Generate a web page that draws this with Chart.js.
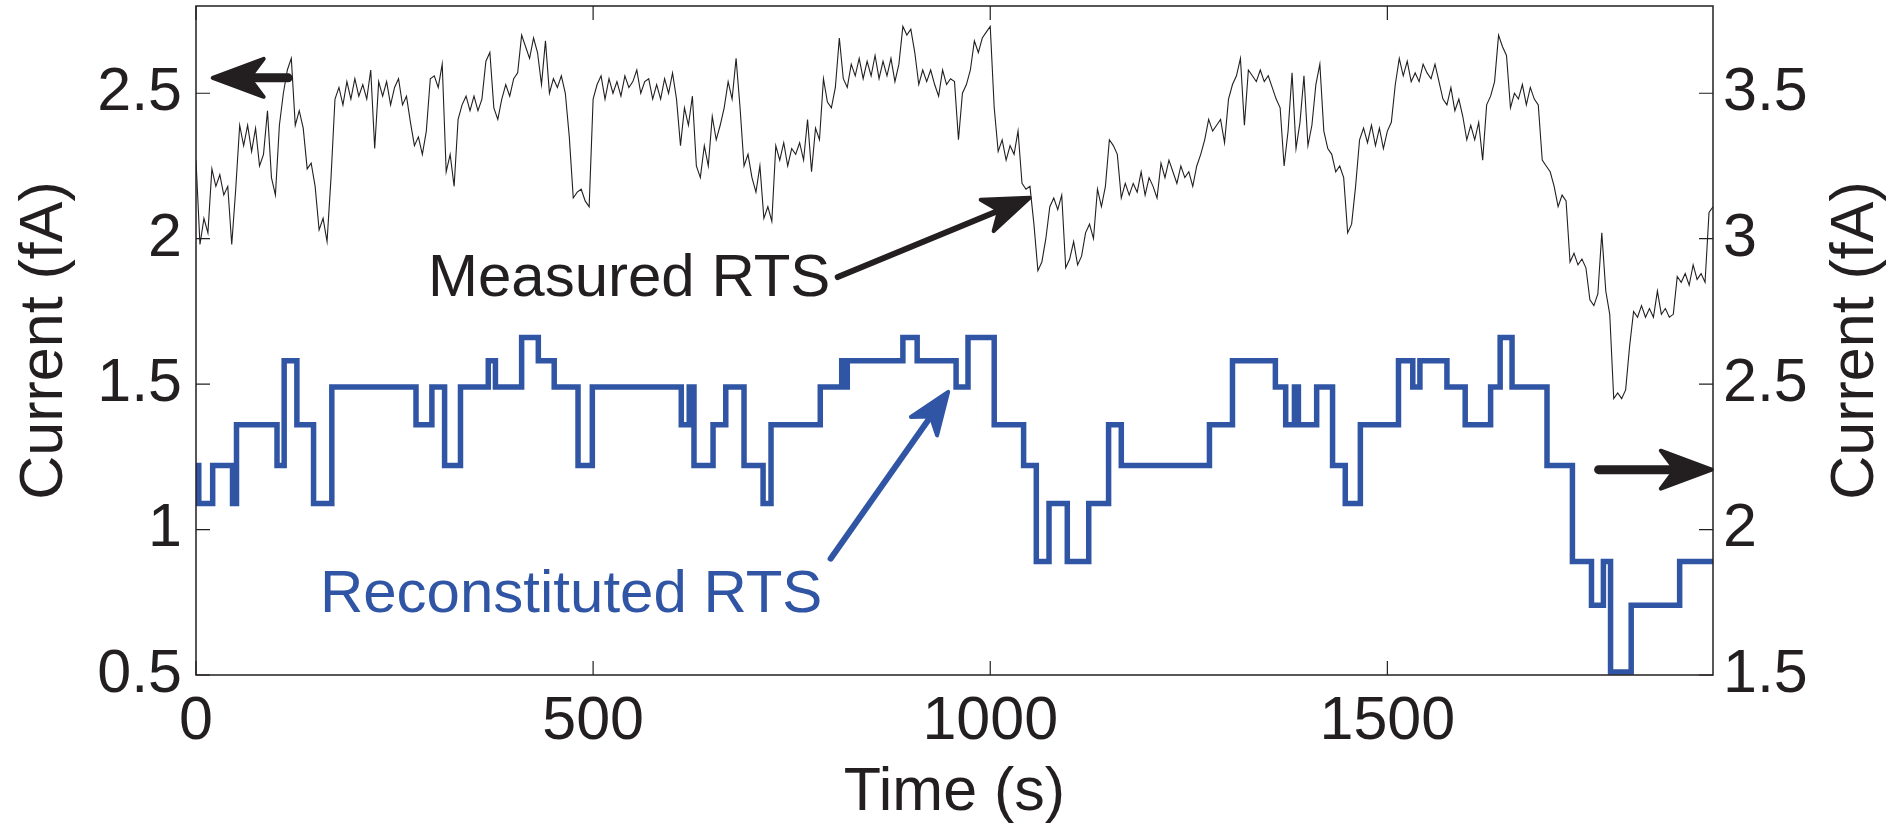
<!DOCTYPE html>
<html>
<head>
<meta charset="utf-8">
<script src="https://cdn.jsdelivr.net/npm/chart.js@4.4.1/dist/chart.umd.min.js"></script>
<style>
  html, body { margin: 0; padding: 0; background: #fff; }
</style>
</head>
<body>
<canvas id="graficoRTS" width="1895" height="823"></canvas>
<script>
// Medido: uma leitura a cada 5 s (eixo esquerdo, fA)
const passoTempo = 5;

const medido1 = [ // 0 - 480 s
  2.27, 1.98, 2.07, 2.02, 2.24, 2.18, 2.22, 2.15, 2.18, 1.98,
  2.17, 2.39, 2.32, 2.39, 2.30, 2.38, 2.25, 2.29, 2.44, 2.21,
  2.15, 2.39, 2.50, 2.58, 2.62, 2.39, 2.44, 2.38, 2.24, 2.26,
  2.18, 2.03, 2.07, 1.99, 2.21, 2.48, 2.52, 2.46, 2.54, 2.48,
  2.55, 2.49, 2.53, 2.48, 2.58, 2.31, 2.54, 2.49, 2.54, 2.46,
  2.52, 2.55, 2.46, 2.49, 2.40, 2.32, 2.35, 2.29, 2.37, 2.55,
  2.56, 2.52, 2.60, 2.23, 2.29, 2.18, 2.41, 2.46, 2.49, 2.44,
  2.49, 2.44, 2.48, 2.61, 2.64, 2.45, 2.41, 2.48, 2.53, 2.49,
  2.55, 2.57, 2.70, 2.66, 2.62, 2.69, 2.64, 2.53, 2.68, 2.50,
  2.55, 2.52, 2.56, 2.50, 2.35, 2.14, 2.16
];
const medido2 = [ // 485 - 950 s
  2.17, 2.13, 2.11, 2.48, 2.53, 2.56, 2.48, 2.55, 2.50, 2.54,
  2.49, 2.56, 2.52, 2.54, 2.58, 2.50, 2.54, 2.55, 2.48, 2.53,
  2.48, 2.55, 2.50, 2.57, 2.48, 2.32, 2.45, 2.39, 2.49, 2.25,
  2.21, 2.32, 2.25, 2.42, 2.34, 2.39, 2.45, 2.54, 2.48, 2.62,
  2.45, 2.25, 2.29, 2.21, 2.16, 2.25, 2.07, 2.11, 2.06, 2.32,
  2.27, 2.33, 2.25, 2.31, 2.29, 2.33, 2.27, 2.41, 2.23, 2.38,
  2.34, 2.55, 2.47, 2.45, 2.52, 2.69, 2.55, 2.52, 2.60, 2.56,
  2.62, 2.55, 2.61, 2.56, 2.63, 2.55, 2.61, 2.56, 2.62, 2.54,
  2.60, 2.73, 2.70, 2.72, 2.64, 2.53, 2.58, 2.54, 2.58, 2.53,
  2.49, 2.58, 2.53, 2.55
];
const medido3 = [ // 955 - 1425 s
  2.54, 2.34, 2.50, 2.53, 2.58, 2.68, 2.64, 2.69, 2.71, 2.73,
  2.45, 2.30, 2.34, 2.27, 2.32, 2.29, 2.37, 2.19, 2.17, 2.18,
  2.05, 1.89, 1.92, 2.00, 2.11, 2.14, 2.10, 2.15, 1.90, 1.93,
  1.99, 1.91, 1.94, 2.02, 2.05, 2.00, 2.17, 2.11, 2.18, 2.34,
  2.32, 2.29, 2.14, 2.19, 2.15, 2.19, 2.16, 2.23, 2.15, 2.21,
  2.18, 2.14, 2.26, 2.21, 2.27, 2.23, 2.19, 2.25, 2.21, 2.23,
  2.18, 2.25, 2.29, 2.34, 2.41, 2.37, 2.39, 2.41, 2.33, 2.48,
  2.53, 2.56, 2.62, 2.39, 2.58, 2.56, 2.54, 2.58, 2.54, 2.56,
  2.52, 2.48, 2.45, 2.25, 2.37, 2.57, 2.31, 2.40, 2.56, 2.32,
  2.39, 2.53, 2.60, 2.37, 2.31
];
const medido4 = [ // 1430 - 1910 s
  2.29, 2.23, 2.25, 2.21, 2.02, 2.05, 2.18, 2.34, 2.38, 2.33,
  2.39, 2.32, 2.38, 2.31, 2.37, 2.40, 2.53, 2.62, 2.56, 2.61,
  2.54, 2.57, 2.54, 2.60, 2.57, 2.55, 2.60, 2.54, 2.48, 2.46,
  2.52, 2.44, 2.48, 2.42, 2.34, 2.39, 2.34, 2.40, 2.27, 2.46,
  2.49, 2.54, 2.70, 2.66, 2.63, 2.45, 2.50, 2.48, 2.53, 2.46,
  2.52, 2.48, 2.46, 2.27, 2.25, 2.23, 2.18, 2.11, 2.15, 2.13,
  1.92, 1.95, 1.91, 1.93, 1.90, 1.79, 1.77, 1.81, 2.02, 1.82,
  1.74, 1.45, 1.47, 1.45, 1.48, 1.63, 1.75, 1.73, 1.77, 1.73,
  1.76, 1.73, 1.82, 1.74, 1.76, 1.73, 1.74, 1.87, 1.85, 1.88,
  1.84, 1.91, 1.86, 1.88, 1.85, 2.09, 2.11
];

// RTS reconstituído: instante da transição (s) e novo nível (eixo direito, fA)
const rtsTempos = [
  0, 3.5, 21, 46, 51, 102, 111, 127, 148, 171,
  277, 297, 313, 333, 368, 377, 410, 431, 451, 481,
  499, 611, 621, 627, 651, 667, 690, 714, 724, 786,
  813, 816, 820, 890, 908, 957, 972, 1005, 1042, 1058,
  1074, 1097, 1124, 1149, 1165, 1276, 1305, 1359, 1372, 1383,
  1388, 1411, 1431, 1447, 1466, 1514, 1532, 1541, 1575, 1598,
  1630, 1642, 1657, 1701, 1733, 1757, 1772, 1781, 1807, 1868,
  1910
];
const rtsNiveis = [
  2.22, 2.09, 2.22, 2.09, 2.36, 2.22, 2.58, 2.36, 2.09, 2.49,
  2.36, 2.49, 2.22, 2.49, 2.58, 2.49, 2.66, 2.58, 2.49, 2.22,
  2.49, 2.36, 2.49, 2.22, 2.36, 2.49, 2.22, 2.09, 2.36, 2.49,
  2.58, 2.49, 2.58, 2.66, 2.58, 2.49, 2.66, 2.36, 2.22, 1.89,
  2.09, 1.89, 2.09, 2.36, 2.22, 2.36, 2.58, 2.49, 2.36, 2.49,
  2.36, 2.49, 2.22, 2.09, 2.36, 2.58, 2.49, 2.58, 2.49, 2.36,
  2.49, 2.66, 2.49, 2.22, 1.89, 1.74, 1.89, 1.51, 1.74, 1.89,
  1.89
];

const ticksX = [0, 500, 1000, 1500];
const ticksEsq = [0.5, 1, 1.5, 2, 2.5];
const ticksDir = [1.5, 2, 2.5, 3, 3.5];

const corTexto = '#231f20';
const corAzul = '#3155a5';
const familia = '"Liberation Sans", Arial, Helvetica, sans-serif';

const pontosMedidos = [...medido1, ...medido2, ...medido3, ...medido4]
  .map((v, i) => ({ x: i * passoTempo, y: v }));
const pontosRts = rtsTempos.map((t, i) => ({ x: t, y: rtsNiveis[i] }));

// Anotações em coordenadas de dados (tempo, eixo esquerdo)
const textos = [
  { texto: 'Measured RTS', t: 292, v: 1.804, cor: corTexto },
  { texto: 'Reconstituted RTS', t: 156, v: 0.718, cor: corAzul }
];
const setas = [
  { de: [808, 1.868], para: [1052, 2.143], haste: 6, comp: 46, larg: 34, cor: corTexto },
  { de: [799, 0.90], para: [948.5, 1.479], haste: 6, comp: 42, larg: 32, cor: corAzul },
  { de: [116, 2.553], para: [18.5, 2.553], haste: 9, comp: 51, larg: 38, cor: corTexto },
  { de: [1766, 1.206], para: [1911, 1.206], haste: 9, comp: 51, larg: 38, cor: corTexto }
];

function desenhaSeta(ctx, x0, y0, x1, y1, s) {
  const dx = x1 - x0, dy = y1 - y0, n = Math.hypot(dx, dy);
  const ux = dx / n, uy = dy / n, px = -uy, py = ux;
  const tx = x1 - ux * 2, ty = y1 - uy * 2;
  const bx = tx - ux * s.comp, by = ty - uy * s.comp;
  const nx = tx - ux * s.comp * 0.72, ny = ty - uy * s.comp * 0.72;
  ctx.strokeStyle = s.cor;
  ctx.fillStyle = s.cor;
  ctx.lineCap = 'round';
  ctx.lineJoin = 'round';
  ctx.lineWidth = s.haste;
  ctx.beginPath();
  ctx.moveTo(x0, y0);
  ctx.lineTo(nx, ny);
  ctx.stroke();
  ctx.lineWidth = 4;
  ctx.beginPath();
  ctx.moveTo(tx, ty);
  ctx.lineTo(bx + px * s.larg / 2, by + py * s.larg / 2);
  ctx.lineTo(nx, ny);
  ctx.lineTo(bx - px * s.larg / 2, by - py * s.larg / 2);
  ctx.closePath();
  ctx.fill();
  ctx.stroke();
}

const decoracao = {
  id: 'decoracao',
  afterDraw(chart) {
    const { ctx, chartArea: a, scales } = chart;
    const sx = scales.x, se = scales.yL, sd = scales.yR;
    ctx.save();

    // caixa e ticks para dentro
    ctx.strokeStyle = corTexto;
    ctx.lineWidth = 1.5;
    ctx.strokeRect(a.left, a.top, a.right - a.left, a.bottom - a.top);
    ctx.lineWidth = 1.2;
    ctx.beginPath();
    sx.ticks.forEach(t => {
      const p = sx.getPixelForValue(t.value);
      ctx.moveTo(p, a.bottom); ctx.lineTo(p, a.bottom - 14);
      ctx.moveTo(p, a.top); ctx.lineTo(p, a.top + 14);
    });
    se.ticks.forEach(t => {
      const p = se.getPixelForValue(t.value);
      ctx.moveTo(a.left, p); ctx.lineTo(a.left + 14, p);
    });
    sd.ticks.forEach(t => {
      const p = sd.getPixelForValue(t.value);
      ctx.moveTo(a.right, p); ctx.lineTo(a.right - 14, p);
    });
    ctx.stroke();

    // títulos dos eixos
    const meioY = (a.top + a.bottom) / 2;
    ctx.font = '61px ' + familia;
    ctx.fillStyle = corTexto;
    ctx.textAlign = 'center';
    ctx.textBaseline = 'alphabetic';
    ctx.fillText('Time (s)', (a.left + a.right) / 2, 810);
    [62, 1873].forEach(xb => {
      ctx.save();
      ctx.translate(xb, meioY);
      ctx.rotate(-Math.PI / 2);
      ctx.fillText('Current (fA)', 0, 0);
      ctx.restore();
    });

    // textos e setas
    ctx.font = '60px ' + familia;
    ctx.textAlign = 'left';
    textos.forEach(n => {
      ctx.fillStyle = n.cor;
      ctx.fillText(n.texto, sx.getPixelForValue(n.t), se.getPixelForValue(n.v));
    });
    setas.forEach(s => {
      desenhaSeta(ctx,
        sx.getPixelForValue(s.de[0]), se.getPixelForValue(s.de[1]),
        sx.getPixelForValue(s.para[0]), se.getPixelForValue(s.para[1]), s);
    });
    ctx.restore();
  }
};

const semPadding = s => { s.paddingTop = 0; s.paddingBottom = 0; s.paddingLeft = 0; s.paddingRight = 0; };
const fonteTicks = { family: familia, size: 61 };

new Chart(document.getElementById('graficoRTS'), {
  type: 'line',
  data: {
    datasets: [
      {
        label: 'Measured RTS',
        data: pontosMedidos,
        yAxisID: 'yL',
        borderColor: corTexto,
        borderWidth: 1.1,
        pointRadius: 0,
        tension: 0
      },
      {
        label: 'Reconstituted RTS',
        data: pontosRts,
        yAxisID: 'yR',
        stepped: 'before',
        borderColor: corAzul,
        borderWidth: 5.5,
        borderJoinStyle: 'miter',
        pointRadius: 0
      }
    ]
  },
  options: {
    responsive: false,
    devicePixelRatio: 1,
    animation: false,
    layout: { padding: { top: 6, left: 0, right: 0, bottom: 0 } },
    plugins: { legend: { display: false }, tooltip: { enabled: false } },
    scales: {
      x: {
        type: 'linear', position: 'bottom', min: 0, max: 1910,
        afterBuildTicks: s => { s.ticks = ticksX.map(v => ({ value: v })); },
        afterFit: s => { s.height = 148; semPadding(s); },
        grid: { display: false, drawTicks: false },
        border: { display: false },
        ticks: { font: fonteTicks, color: corTexto, padding: 11, maxRotation: 0, autoSkip: false, callback: v => String(v) }
      },
      yL: {
        type: 'linear', position: 'left', min: 0.5, max: 2.8,
        afterBuildTicks: s => { s.ticks = ticksEsq.map(v => ({ value: v })); },
        afterFit: s => { s.width = 196; semPadding(s); },
        grid: { display: false, drawTicks: false },
        border: { display: false },
        ticks: { font: fonteTicks, color: corTexto, padding: 14, autoSkip: false, callback: v => String(v) }
      },
      yR: {
        type: 'linear', position: 'right', min: 1.5, max: 3.8,
        afterBuildTicks: s => { s.ticks = ticksDir.map(v => ({ value: v })); },
        afterFit: s => { s.width = 182; semPadding(s); },
        grid: { display: false, drawTicks: false },
        border: { display: false },
        ticks: { font: fonteTicks, color: corTexto, padding: 10, autoSkip: false, callback: v => String(v) }
      }
    }
  },
  plugins: [decoracao]
});
</script>
</body>
</html>
